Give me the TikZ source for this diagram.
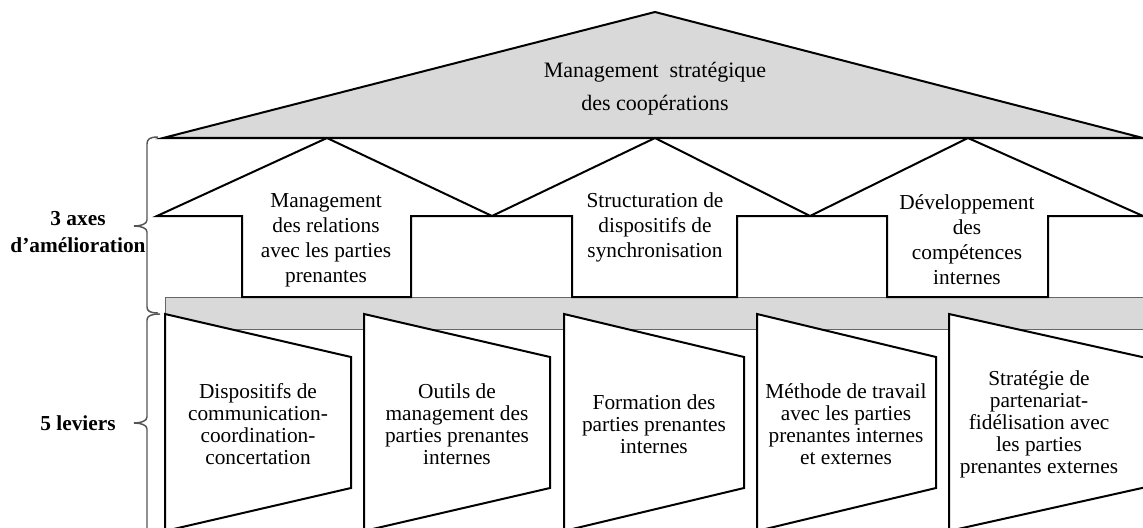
\documentclass[tikz,border=0pt]{standalone}
\usepackage{fontspec}
\setmainfont{Liberation Serif}
\definecolor{roofgray}{HTML}{D9D9D9}
\definecolor{bracegray}{HTML}{555555}
\begin{document}
\begin{tikzpicture}[x=0.75pt,y=-0.75pt,
  outline/.style={draw=black,line width=1.5pt,line join=miter},
  roofbody/.style={outline,fill=roofgray},
  leverbody/.style={outline,fill=white},
  beambody/.style={fill=roofgray,draw=gray!80!black,line width=0.75pt},
  bracestroke/.style={draw=bracegray,line width=1.1pt},
  roofstyle/.style={font=\fontsize{16.5}{24.5}\selectfont,align=center,inner sep=0pt},
  axisstyle/.style={font=\fontsize{16}{18.75}\selectfont,align=center,inner sep=0pt},
  leverstyle/.style={font=\fontsize{16}{16.5}\selectfont,align=center,inner sep=0pt},
  sidestyle/.style={font=\fontsize{16}{20}\selectfont\bfseries,align=center,inner sep=0pt}]
\useasboundingbox (0,0) rectangle (1143,528);
\clip (0,0) rectangle (1143,528);

% grey beam carrying the three axes
\draw[beambody] (165,297) rectangle (1160,329);

% the three axes as upward arrows
\draw[leverbody] (157,216) -- (327,138) -- (492,216) -- (655,138) -- (810,216)
  -- (968,138) -- (1143,216) -- (1048,216) -- (1048,297) -- (887,297)
  -- (887,216) -- (737,216) -- (737,297) -- (572,297) -- (572,216)
  -- (411,216) -- (411,297) -- (242,297) -- (242,216) -- cycle;

% roof
\draw[roofbody] (163,138) -- (655,12) -- (1143,138) -- cycle;

% the five levers
\draw[leverbody] (165,314) -- (351,357) -- (351,488) -- (165,531) -- cycle;
\draw[leverbody] (364,314) -- (550,357) -- (550,488) -- (364,531) -- cycle;
\draw[leverbody] (564,314) -- (744,357) -- (744,488) -- (564,531) -- cycle;
\draw[leverbody] (757,314) -- (936,357) -- (936,488) -- (757,531) -- cycle;
\draw[leverbody] (949,314) -- (1160,361) -- (1160,484) -- (949,531) -- cycle;

% braces
\draw[bracestroke] (158,137) .. controls (150,137) and (147,139) .. (147,144)
  -- (147,220) .. controls (147,224) and (141,226) .. (134,226)
  .. controls (141,226) and (147,228) .. (147,232)
  -- (147,307) .. controls (147,311) and (150,313) .. (158,313);
\draw[bracestroke] (160,314) .. controls (151,314) and (147,316) .. (147,320)
  -- (147,417) .. controls (147,421) and (141,423) .. (134,423)
  .. controls (141,423) and (147,425) .. (147,429) -- (147,540);

% texts
\node[roofstyle] (roofText) at (655,89) {Management\ \ stratégique\\des coopérations};
\node[axisstyle] (axis1) at (326,240) {Management\\des relations\\avec les parties\\prenantes};
\node[axisstyle] (axis2) at (655,227) {Structuration de\\dispositifs de\\synchronisation};
\node[axisstyle] (axis3) at (967,240) {Développement\\des\\compétences\\internes};
\node[leverstyle] (lever1) at (258,424) {Dispositifs de\\communication-\\coordination-\\concertation};
\node[leverstyle] (lever2) at (457,424) {Outils de\\management des\\parties prenantes\\internes};
\node[leverstyle] (lever3) at (654,424) {Formation des\\parties prenantes\\internes};
\node[leverstyle] (lever4) at (846,424) {Méthode de travail\\avec les parties\\prenantes internes\\et externes};
\node[leverstyle] (lever5) at (1039,424) {Stratégie de\\partenariat-\\fidélisation avec\\les parties\\prenantes externes};
\node[sidestyle] (axesLabel) at (78,232) {3 axes\\d’amélioration};
\node[sidestyle] (leversLabel) at (78,423) {5 leviers};
\end{tikzpicture}
\end{document}
